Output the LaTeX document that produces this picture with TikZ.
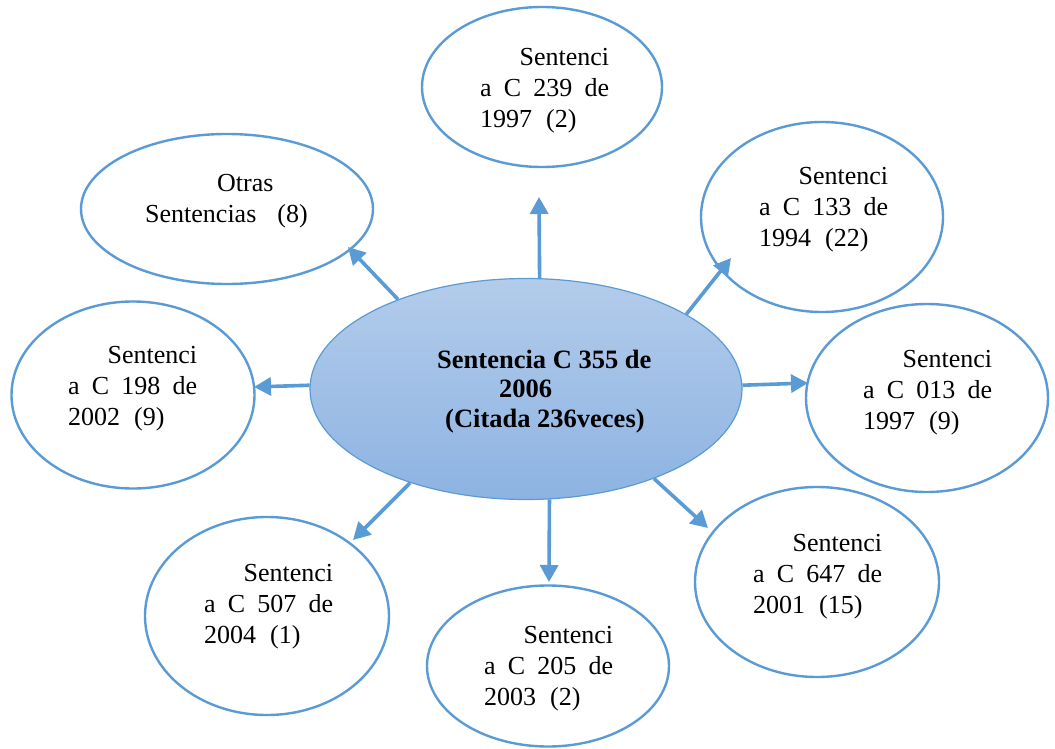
\documentclass[tikz,border=0pt]{standalone}
\usepackage{fontspec}
\setmainfont{Liberation Serif}
\usetikzlibrary{shapes.geometric,arrows.meta}

\definecolor{edge}{HTML}{5B9BD5}
\definecolor{hubtop}{HTML}{B3CCEB}
\definecolor{hubbot}{HTML}{8DB3E2}

% three justified lines of a "Sentencia" label
\newcommand\sentlabel[3]{\vtop{\baselineskip=31pt
  \hbox to 129pt{\hfil Sentenci}%
  \hbox to 129pt{a\hfil C\hfil #1\hfil de}%
  \hbox to 129pt{#2\hskip14pt #3\hfil}}}

\tikzset{
  leaf/.style={ellipse, draw=edge, line width=2.4pt, fill=white, inner sep=0pt},
  hub/.style={ellipse, draw=edge, line width=1.2pt, top color=hubtop, bottom color=hubbot, inner sep=0pt},
  label/.style={anchor=base west, inner sep=0pt, font=\fontsize{26}{31}\selectfont},
  arr/.style={draw=edge, line width=3.6pt, -{Triangle[length=17pt,width=18pt]}}
}

\begin{document}
\begin{tikzpicture}[x=1pt,y=-1pt]
\useasboundingbox[fill=white] (0,0) rectangle (1055,749);

% central node
\node[hub, minimum width=432pt, minimum height=221pt] (c) at (526,389) {};
\node[anchor=base west, inner sep=0pt, font=\fontsize{26.5}{30}\selectfont\bfseries] (cT) at (437,368)
  {\vtop{\baselineskip=29.5pt
   \hbox{Sentencia C 355 de}%
   \hbox{\hskip62pt 2006}%
   \hbox{\hskip8pt (Citada 236veces)}}};

% surrounding rulings
\node[leaf, minimum width=240pt, minimum height=160pt] (t)  at (542,87)  {};
\node[leaf, minimum width=292pt, minimum height=150pt] (o)  at (227,209) {};
\node[leaf, minimum width=242pt, minimum height=190pt] (u)  at (822,217) {};
\node[leaf, minimum width=243pt, minimum height=187pt] (l)  at (133,395) {};
\node[leaf, minimum width=242pt, minimum height=188pt] (r)  at (927,398) {};
\node[leaf, minimum width=244pt, minimum height=198pt] (ll) at (267,616) {};
\node[leaf, minimum width=242pt, minimum height=161pt] (b)  at (548,666) {};
\node[leaf, minimum width=244pt, minimum height=190pt] (lr) at (817,582) {};

\node[label] (tT)  at (480,66)  {\sentlabel{239}{1997}{(2)}};
\node[label] (uT)  at (759,185) {\sentlabel{133}{1994}{(22)}};
\node[label] (lT)  at (68,363)  {\sentlabel{198}{2002}{(9)}};
\node[label] (rT)  at (863,367) {\sentlabel{013}{1997}{(9)}};
\node[label] (llT) at (204,581) {\sentlabel{507}{2004}{(1)}};
\node[label] (bT)  at (484,643) {\sentlabel{205}{2003}{(2)}};
\node[label] (lrT) at (753,551) {\sentlabel{647}{2001}{(15)}};
\node[label] (oT)  at (145,191)
  {\vtop{\baselineskip=31pt
   \hbox{\hskip72pt Otras}%
   \hbox{Sentencias\hskip21pt(8)}}};

% arrow tips
\coordinate (tA)  at (539,197);
\coordinate (oA)  at (348,247);
\coordinate (uA)  at (731,258);
\coordinate (lA)  at (254,387);
\coordinate (rA)  at (808,383);
\coordinate (llA) at (353,540);
\coordinate (bA)  at (549,582);
\coordinate (lrA) at (708,528);

% connectors from the central node
\draw[arr] (c.83)    -- (tA);
\draw[arr] (c.145.4) -- (oA);
\draw[arr] (c.25.8)  -- (uA);
\draw[arr] (c.179.5) -- (lA);
\draw[arr] (c.1.6)   -- (rA);
\draw[arr] (c.219)   -- (llA);
\draw[arr] (c.282)   -- (bA);
\draw[arr] (c.325.5) -- (lrA);
\end{tikzpicture}
\end{document}
